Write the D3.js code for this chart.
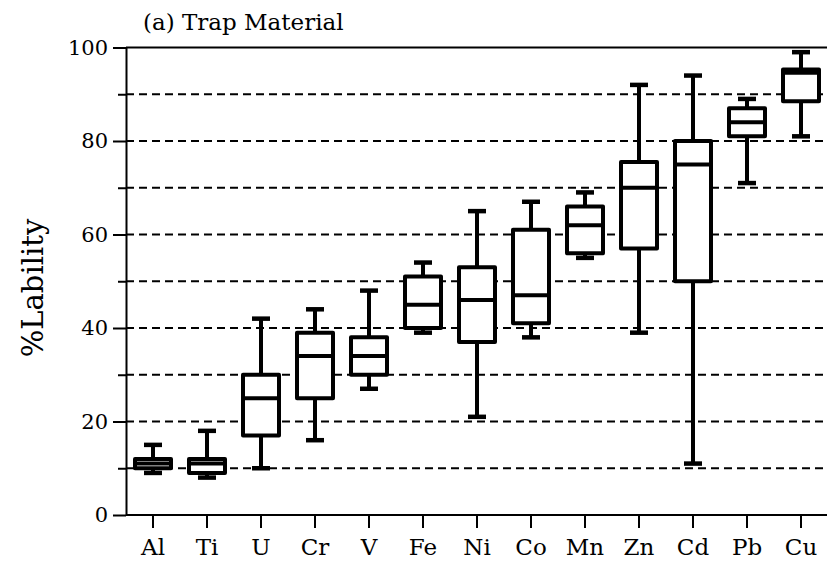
<!DOCTYPE html>
<html>
<head>
<meta charset="utf-8">
<script src="https://cdn.jsdelivr.net/npm/d3@7"></script>
<style>
  html, body { margin: 0; padding: 0; background: #fff; }
  svg { display: block; }
  text { font-family: "DejaVu Serif", serif; fill: #000; }
</style>
</head>
<body>
<svg id="chart" width="827" height="569"></svg>
<script>
// Lability of each element in trap material: five-number summaries
const elements = ["Al", "Ti", "U", "Cr", "V", "Fe", "Ni", "Co", "Mn", "Zn", "Cd", "Pb", "Cu"];
const minVals    = [9,  8,  10, 16, 27, 39, 21, 38, 55, 39, 11, 71, 81];
const q1Vals     = [10, 9,  17, 25, 30, 40, 37, 41, 56, 57, 50, 81, 88.5];
const medianVals = [11, 11, 25, 34, 34, 45, 46, 47, 62, 70, 75, 84, 94.6];
const q3Vals     = [12, 12, 30, 39, 38, 51, 53, 61, 66, 75.5, 80, 87, 95.3];
const maxVals    = [15, 18, 42, 44, 48, 54, 65, 67, 69, 92, 94, 89, 99];

const majorTicks = [0, 20, 40, 60, 80, 100];
const minorTicks = [10, 30, 50, 70, 90];
const gridLines  = [10, 20, 30, 40, 50, 60, 70, 80, 90];

const titleText = "(a) Trap Material";
const yTitle = "%Lability";

const boxes = elements.map((el, i) => ({
  el, min: minVals[i], q1: q1Vals[i], med: medianVals[i], q3: q3Vals[i], max: maxVals[i]
}));

const svg = d3.select("#chart");
const margin = { left: 126, right: 0, top: 47.5, bottom: 54 };
const W = 827, H = 569;
const FONT = '"DejaVu Serif", serif';

const x = d3.scaleBand().domain(elements).range([margin.left, 828]).padding(0);
const y = d3.scaleLinear().domain([0, 100]).range([H - margin.bottom, margin.top]);

// Dashed reference lines every 10 units
svg.append("g")
  .selectAll("line")
  .data(gridLines)
  .join("line")
  .attr("x1", margin.left).attr("x2", W)
  .attr("y1", d => y(d)).attr("y2", d => y(d))
  .attr("stroke", "#000").attr("stroke-width", 2)
  .attr("stroke-dasharray", "8,5");

// Solid frame line at 100
svg.append("line")
  .attr("x1", margin.left).attr("x2", W)
  .attr("y1", y(100)).attr("y2", y(100))
  .attr("stroke", "#000").attr("stroke-width", 2);

// Minor ticks on the y axis
const yMinor = svg.append("g")
  .attr("transform", `translate(${margin.left},0)`)
  .call(d3.axisLeft(y).tickValues(minorTicks).tickSize(8).tickFormat(""));
yMinor.select(".domain").remove();
yMinor.selectAll(".tick line").attr("stroke-width", 2);

// Major ticks and labels on the y axis
const yAxis = svg.append("g")
  .attr("transform", `translate(${margin.left},0)`)
  .call(d3.axisLeft(y).tickValues(majorTicks).tickSize(13).tickSizeOuter(0).tickPadding(5));
yAxis.attr("font-family", FONT).attr("font-size", 21);
yAxis.select(".domain").attr("stroke-width", 2);
yAxis.selectAll(".tick line").attr("stroke-width", 2);

// Category axis
const xAxis = svg.append("g")
  .attr("transform", `translate(0,${y(0)})`)
  .call(d3.axisBottom(x).tickSize(13).tickSizeOuter(0).tickPadding(11));
xAxis.attr("font-family", FONT).attr("font-size", 23);
xAxis.select(".domain").attr("stroke-width", 2).attr("d", `M${margin.left},0H${W}`);
xAxis.selectAll(".tick line").attr("stroke-width", 2);

// Box plots
const boxW = 36, capW = 18;
const g = svg.append("g").attr("stroke", "#000").attr("fill", "none");
const bx = g.selectAll("g.box").data(boxes).join("g").attr("class", "box")
  .attr("transform", d => `translate(${x(d.el) + x.bandwidth() / 2},0)`);

// whiskers
bx.append("line")
  .attr("x1", 0).attr("x2", 0)
  .attr("y1", d => y(d.max)).attr("y2", d => y(d.q3))
  .attr("stroke-width", 4);
bx.append("line")
  .attr("x1", 0).attr("x2", 0)
  .attr("y1", d => y(d.q1)).attr("y2", d => y(d.min))
  .attr("stroke-width", 4);
// caps
bx.append("line")
  .attr("x1", -capW / 2).attr("x2", capW / 2)
  .attr("y1", d => y(d.max)).attr("y2", d => y(d.max))
  .attr("stroke-width", 4.5);
bx.append("line")
  .attr("x1", -capW / 2).attr("x2", capW / 2)
  .attr("y1", d => y(d.min)).attr("y2", d => y(d.min))
  .attr("stroke-width", 4.5);
// box
bx.append("rect")
  .attr("x", -boxW / 2).attr("width", boxW)
  .attr("y", d => y(d.q3)).attr("height", d => y(d.q1) - y(d.q3))
  .attr("fill", "#fff")
  .attr("stroke-width", 4).attr("stroke-linejoin", "round");
// median
bx.append("line")
  .attr("x1", -boxW / 2).attr("x2", boxW / 2)
  .attr("y1", d => y(d.med)).attr("y2", d => y(d.med))
  .attr("stroke-width", 4);

// Panel title
svg.append("text")
  .attr("x", 143).attr("y", 30)
  .attr("font-family", FONT)
  .attr("font-size", 23)
  .text(titleText);

// Y axis title
svg.append("text")
  .attr("transform", `translate(43,${288}) rotate(-90)`)
  .attr("text-anchor", "middle")
  .attr("font-family", FONT)
  .attr("font-size", 29)
  .text(yTitle);
</script>
</body>
</html>
